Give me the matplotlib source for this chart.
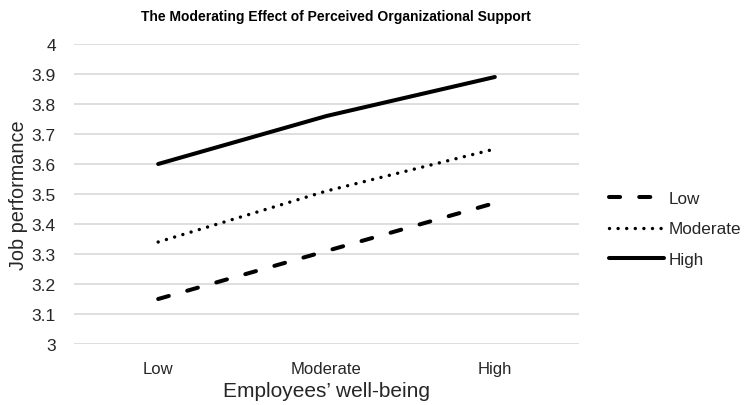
import matplotlib
matplotlib.use("Agg")
import matplotlib.pyplot as plt

plt.rcParams["font.family"] = ["Liberation Sans", "DejaVu Sans"]

# data
categories = ["Low", "Moderate", "High"]
series_names = ["Low", "Moderate", "High"]
low_pos = [3.15, 3.31, 3.47]
moderate_pos = [3.34, 3.51, 3.65]
high_pos = [3.60, 3.76, 3.89]
y_ticks = [3, 3.1, 3.2, 3.3, 3.4, 3.5, 3.6, 3.7, 3.8, 3.9, 4]

fig = plt.figure(figsize=(7.44, 4.06), dpi=100)
ax = fig.add_axes([74 / 744, 61 / 406, 505 / 744, 300 / 406])

x = list(range(len(categories)))
lw = 2.9
ax.plot(x, low_pos, color="black", lw=lw, linestyle=(0, (2.75, 4.75)),
        dash_capstyle="round", label=series_names[0])
ax.plot(x, moderate_pos, color="black", lw=lw * 0.85, linestyle=(0, (0.01, 2.5)),
        dash_capstyle="round", label=series_names[1])
ax.plot(x, high_pos, color="black", lw=lw, solid_capstyle="round",
        label=series_names[2])

ax.set_xlim(-0.5, len(categories) - 0.5)
ax.set_ylim(3, 4)
ax.set_yticks(y_ticks)
ax.set_yticklabels([f"{t:g}" for t in y_ticks])
ax.set_xticks(x)
ax.set_xticklabels(categories)
ax.tick_params(length=0, labelsize=12, colors="#262626")
ax.tick_params(axis="y", pad=13, labelsize=12.5)
ax.tick_params(axis="x", pad=12)
ax.grid(axis="y", color="#d9d9d9", lw=1.2)
ax.set_axisbelow(True)
for s in ax.spines.values():
    s.set_visible(False)

ax.set_ylabel("Job performance", fontsize=14.3, color="#262626", labelpad=3)
ax.set_xlabel("Employees\u2019 well-being", fontsize=15, color="#262626", labelpad=4)

fig.text(336 / 744, 1 - 17 / 406, "The Moderating Effect of Perceived Organizational Support",
         ha="center", va="center", fontsize=10, fontweight="bold", color="black")

fig.legend(loc="center left", bbox_to_anchor=(594 / 744, 1 - 230 / 406), frameon=False,
           fontsize=12.3, handlelength=3.2, handletextpad=0.25, labelspacing=0.9,
           labelcolor="#262626")

fig.savefig("out.png", dpi=100)
